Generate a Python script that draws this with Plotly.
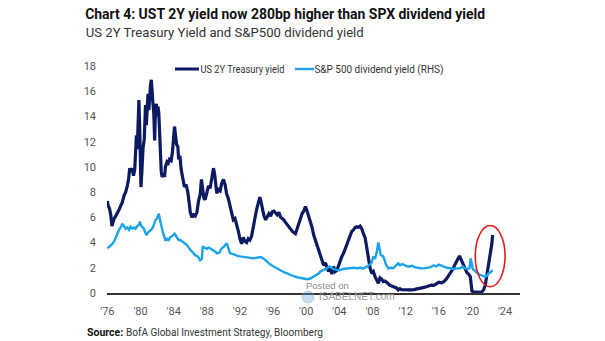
import plotly.graph_objects as go

# US 2Y Treasury yield (decimal year, %)
ust2y_t = [1976.0, 1976.1, 1976.25, 1976.4, 1976.55, 1976.65, 1976.8, 1977.0, 1977.2, 1977.4, 1977.6, 1977.8,
           1978.0, 1978.2, 1978.4, 1978.55, 1978.7, 1978.85, 1979.0, 1979.15, 1979.3, 1979.4, 1979.5, 1979.6,
           1979.7, 1979.8, 1979.9, 1980.05, 1980.15, 1980.3, 1980.45, 1980.6, 1980.7, 1980.8, 1980.9, 1981.0,
           1981.1, 1981.2, 1981.3, 1981.4, 1981.5, 1981.6, 1981.7, 1981.8, 1981.9, 1982.0, 1982.1, 1982.2,
           1982.3, 1982.4, 1982.5, 1982.6, 1982.75, 1982.9, 1983.0, 1983.2, 1983.35, 1983.5, 1983.7, 1983.85,
           1984.0, 1984.1, 1984.2, 1984.35, 1984.5, 1984.6, 1984.75, 1984.9, 1985.1, 1985.3, 1985.5, 1985.7,
           1985.9, 1986.0, 1986.2, 1986.4, 1986.6, 1986.8, 1987.0, 1987.2, 1987.35, 1987.5, 1987.65, 1987.8,
           1988.0, 1988.2, 1988.4, 1988.6, 1988.8, 1988.95, 1989.1, 1989.2, 1989.4, 1989.6, 1989.8, 1990.0,
           1990.2, 1990.4, 1990.55, 1990.7, 1990.85, 1991.0, 1991.2, 1991.4, 1991.6, 1991.8, 1992.0, 1992.2,
           1992.4, 1992.6, 1992.8, 1993.0, 1993.2, 1993.4, 1993.6, 1993.8, 1994.0, 1994.2, 1994.4, 1994.55,
           1994.7, 1994.9, 1995.1, 1995.3, 1995.5, 1995.7, 1995.9, 1996.1, 1996.3, 1996.5, 1996.7, 1996.9,
           1997.1, 1997.3, 1997.5, 1997.7, 1997.9, 1998.1, 1998.3, 1998.5, 1998.7, 1998.9, 1999.1, 1999.3,
           1999.5, 1999.7, 1999.9, 2000.1, 2000.3, 2000.5, 2000.7, 2000.9, 2001.1, 2001.3, 2001.5, 2001.7,
           2001.9, 2002.1, 2002.3, 2002.5, 2002.7, 2002.9, 2003.1, 2003.3, 2003.5, 2003.7, 2003.9, 2004.1,
           2004.3, 2004.5, 2004.7, 2004.9, 2005.1, 2005.3, 2005.5, 2005.7, 2005.9, 2006.1, 2006.3, 2006.5,
           2006.7, 2006.9, 2007.1, 2007.3, 2007.5, 2007.7, 2007.9, 2008.1, 2008.3, 2008.5, 2008.7, 2008.9,
           2009.1, 2009.3, 2009.5, 2009.7, 2009.9, 2010.1, 2010.3, 2010.5, 2010.7, 2010.9, 2011.1, 2011.3,
           2011.5, 2011.8, 2012.1, 2012.4, 2012.7, 2013.0, 2013.3, 2013.6, 2013.9, 2014.2, 2014.5, 2014.8,
           2015.1, 2015.4, 2015.7, 2016.0, 2016.3, 2016.6, 2016.9, 2017.1, 2017.3, 2017.5, 2017.7, 2017.9,
           2018.1, 2018.3, 2018.5, 2018.7, 2018.85, 2019.0, 2019.2, 2019.4, 2019.6, 2019.8, 2019.9, 2020.0,
           2020.2, 2020.5, 2020.8, 2021.0, 2021.2, 2021.4, 2021.6, 2021.75, 2021.85, 2022.0, 2022.1, 2022.2,
           2022.3, 2022.4, 2022.5]
ust2y_v = [7.3, 6.9, 6.7, 6.2, 5.3, 5.6, 5.9, 6.1, 6.3, 6.6, 6.9, 7.2,
           7.7, 8.0, 8.5, 9.0, 9.9, 9.6, 9.9, 9.3, 9.8, 11.0, 12.5, 11.4,
           13.0, 15.3, 13.0, 8.4, 9.5, 11.5, 12.2, 14.9, 13.3, 14.6, 15.8, 14.5,
           15.9, 16.5, 16.9, 15.2, 15.0, 14.2, 12.1, 14.5, 15.0, 14.0, 14.8, 14.3,
           12.8, 10.5, 9.6, 9.2, 9.5, 9.2, 10.0, 10.4, 10.3, 10.6, 10.5, 11.2,
           12.5, 13.2, 12.6, 11.8, 11.6, 10.6, 10.9, 9.8, 9.1, 8.4, 8.6, 8.0,
           7.0, 6.4, 6.0, 6.2, 6.1, 6.4, 7.3, 7.8, 9.0, 8.2, 7.5, 7.4,
           8.0, 8.5, 8.3, 9.0, 9.9, 9.4, 8.5, 7.9, 8.2, 8.1, 8.7, 9.0,
           8.6, 7.8, 7.6, 7.2, 6.8, 6.3, 5.8, 5.9, 5.5, 4.9, 4.3, 3.9,
           4.4, 4.1, 4.0, 4.3, 4.2, 4.5, 5.2, 6.05, 6.6, 7.1, 7.6, 7.2,
           6.6, 6.1, 5.8, 6.0, 6.3, 6.1, 6.45, 6.5, 6.3, 6.2, 6.4, 6.0,
           5.9, 5.8, 5.6, 5.4, 5.2, 5.0, 4.9, 4.8, 4.7, 5.1, 5.5, 6.0,
           6.3, 6.5, 6.85, 6.5, 6.1, 5.8, 5.2, 4.6, 4.2, 3.7, 3.4, 3.0,
           2.5, 2.2, 2.4, 2.0, 1.7, 1.96, 1.5, 2.1, 1.7, 1.8, 2.2, 2.6,
           2.9, 3.15, 3.5, 3.9, 4.2, 4.6, 4.9, 5.0, 5.2, 5.26, 5.2, 5.3,
           5.1, 4.7, 4.4, 3.6, 2.6, 2.0, 1.56, 1.7, 1.3, 1.0, 0.77, 1.2,
           1.1, 0.9, 0.95, 0.85, 0.7, 0.6, 0.55, 0.5, 0.45, 0.4, 0.24, 0.35,
           0.27, 0.25, 0.27, 0.24, 0.25, 0.27, 0.3, 0.35, 0.38, 0.45, 0.5, 0.55,
           0.63, 0.6, 0.7, 0.85, 0.8, 0.9, 1.1, 1.3, 1.43, 1.6, 1.9, 2.2,
           2.4, 2.7, 2.94, 2.6, 2.4, 2.2, 1.9, 1.6, 1.5, 1.3, 0.7, 0.15,
           0.1, 0.06, 0.05, 0.05, 0.1, 0.24, 0.6, 1.2, 1.56, 2.2, 2.9, 3.1,
           3.4, 3.9, 4.6]

# S&P 500 dividend yield (decimal year, %)
spx_dy_t = [1976.0, 1976.3, 1976.6, 1976.8, 1977.0, 1977.2, 1977.4, 1977.6, 1977.8, 1978.0, 1978.2, 1978.4,
            1978.6, 1978.8, 1979.0, 1979.2, 1979.4, 1979.6, 1979.8, 1979.9, 1980.1, 1980.4, 1980.55, 1980.7,
            1980.9, 1981.2, 1981.4, 1981.6, 1981.8, 1982.0, 1982.2, 1982.35, 1982.5, 1982.7, 1982.85, 1983.0,
            1983.2, 1983.4, 1983.6, 1983.8, 1984.1, 1984.3, 1984.6, 1984.8, 1985.0, 1985.3, 1985.6, 1985.9,
            1986.2, 1986.4, 1986.6, 1986.9, 1987.2, 1987.4, 1987.5, 1987.7, 1988.0, 1988.2, 1988.4, 1988.7,
            1989.0, 1989.2, 1989.5, 1989.8, 1990.1, 1990.4, 1990.6, 1990.8, 1991.1, 1991.4, 1991.7, 1992.0,
            1992.4, 1992.8, 1993.2, 1993.6, 1994.0, 1994.5, 1994.9, 1995.2, 1995.5, 1995.8, 1996.2, 1996.5,
            1996.9, 1997.3, 1997.7, 1998.0, 1998.4, 1998.9, 1999.3, 1999.7, 2000.1, 2000.5, 2000.9, 2001.2,
            2001.5, 2001.7, 2002.0, 2002.3, 2002.5, 2002.8, 2003.0, 2003.3, 2003.7, 2004.0, 2004.4, 2004.9,
            2005.3, 2005.7, 2006.1, 2006.5, 2006.9, 2007.3, 2007.6, 2007.9, 2008.1, 2008.3, 2008.5, 2008.7,
            2008.85, 2009.0, 2009.3, 2009.6, 2009.9, 2010.2, 2010.5, 2010.8, 2011.1, 2011.3, 2011.6, 2011.9,
            2012.2, 2012.5, 2012.8, 2013.1, 2013.4, 2013.8, 2014.2, 2014.6, 2015.0, 2015.4, 2015.7, 2016.0,
            2016.3, 2016.6, 2017.0, 2017.4, 2017.8, 2018.2, 2018.6, 2018.9, 2019.2, 2019.5, 2019.7, 2019.85,
            2019.95, 2020.1, 2020.3, 2020.6, 2021.0, 2021.3, 2021.6, 2021.8, 2022.0, 2022.2, 2022.35, 2022.5]
spx_dy_v = [3.55, 3.7, 3.9, 4.07, 4.4, 4.6, 5.0, 5.2, 5.5, 5.3, 5.1, 5.2,
            5.0, 5.26, 5.1, 5.2, 5.1, 5.3, 5.4, 5.65, 5.3, 5.1, 4.8, 4.6,
            4.8, 5.0, 5.1, 5.4, 5.8, 5.9, 6.3, 5.8, 5.26, 4.8, 4.5, 4.2,
            4.3, 4.2, 4.45, 4.5, 4.7, 4.5, 4.2, 4.2, 4.1, 3.9, 3.8, 3.5,
            3.3, 3.2, 3.0, 2.9, 2.6, 2.7, 3.7, 3.6, 3.5, 3.6, 3.55, 3.4,
            3.3, 3.15, 3.2, 3.55, 3.7, 3.95, 3.5, 3.15, 3.1, 3.0, 2.95, 2.9,
            2.85, 2.8, 2.75, 2.75, 2.8, 2.85, 2.7, 2.5, 2.35, 2.2, 2.05, 1.96,
            1.8, 1.65, 1.56, 1.45, 1.35, 1.25, 1.2, 1.15, 1.09, 1.15, 1.3, 1.4,
            1.55, 1.7, 1.8, 1.85, 1.96, 2.1, 2.0, 1.9, 1.83, 1.8, 1.9, 1.96,
            1.95, 2.0, 1.96, 2.0, 1.95, 2.1, 2.2, 2.4, 2.9, 2.7, 3.2, 4.0,
            3.4, 3.0, 2.9, 2.3, 1.96, 2.0, 1.96, 2.15, 2.35, 2.2, 2.3, 2.2,
            2.1, 2.1, 2.15, 2.05, 2.0, 1.96, 1.95, 2.0, 2.05, 2.2, 2.1, 2.25,
            2.15, 2.1, 2.0, 1.96, 1.9, 1.95, 1.96, 2.1, 1.95, 1.9, 1.96, 2.75,
            2.3, 1.9, 1.8, 1.6, 1.43, 1.35, 1.3, 1.35, 1.56, 1.6, 1.75, 1.83]

tick_years = [1976, 1980, 1984, 1988, 1992, 1996, 2000, 2004, 2008, 2012, 2016, 2020, 2024]
tick_text = ["'76", "'80", "'84", "'88", "'92", "'96", "'00", "'04", "'08", "'12", "'16", "'20", "'24"]
y_ticks = [0, 2, 4, 6, 8, 10, 12, 14, 16, 18]

TITLE = "Chart 4: UST 2Y yield now 280bp higher than SPX dividend yield"
SUBTITLE = "US 2Y Treasury Yield and S&P500 dividend yield"
LEG_UST = "US 2Y Treasury yield"
LEG_SPX = "S&P 500 dividend yield (RHS)"
SOURCE_TAG = "Source:"
SOURCE = "BofA Global Investment Strategy, Bloomberg"

NAVY = "#0c1a62"
SKY = "#1aa3e8"
FONT = "Roboto, Liberation Sans, Arial, sans-serif"

W, H = 605, 341
L, R, T, B = 107, 520, 66, 293  # plot area edges in pixels


def px(xp):
    return (xp - L) / (R - L)


def py(yp):
    return (B - yp) / (B - T)


fig = go.Figure()
fig.add_trace(go.Scatter(x=ust2y_t, y=ust2y_v, mode="lines", name=LEG_UST,
                         line=dict(color=NAVY, width=3.2), showlegend=False))
fig.add_trace(go.Scatter(x=spx_dy_t, y=spx_dy_v, mode="lines", name=LEG_SPX,
                         line=dict(color=SKY, width=2.4), showlegend=False))

shapes = [
    # highlight of the latest move
    dict(type="circle", xref="x", yref="y", x0=2020.4, x1=2024.0, y0=0.5, y1=5.35,
         line=dict(color="#e31b1b", width=1.6)),
    # legend keys
    dict(type="line", xref="paper", yref="paper", x0=px(175), x1=px(199), y0=py(69), y1=py(69),
         line=dict(color=NAVY, width=3)),
    dict(type="line", xref="paper", yref="paper", x0=px(295), x1=px(314), y0=py(69), y1=py(69),
         line=dict(color=SKY, width=2.4)),
    # watermark globe
    dict(type="circle", xref="paper", yref="paper", x0=px(302), x1=px(314), y0=py(303), y1=py(291),
         fillcolor="rgba(90,160,225,0.35)", line=dict(color="rgba(150,170,190,0.5)", width=1)),
]

# centred text items: (text, centre x px, centre y px, size, colour)
texts = [
    ("<b>" + TITLE + "</b>", 285, 14, 15.5, "#111"),
    (SUBTITLE, 224, 31.5, 13.5, "#333"),
    (LEG_UST, 242, 69, 10.5, "#333"),
    (LEG_SPX, 378.5, 69, 10.5, "#333"),
]
annotations = []
for txt, cx, cy, size, col in texts:
    annotations.append(dict(text=txt, x=px(cx), y=py(cy), xref="paper", yref="paper",
                            xanchor="center", yanchor="middle", showarrow=False,
                            font=dict(size=size, color=col, family=FONT)))
annotations += [
    dict(text="<b>" + SOURCE_TAG + "</b>", x=px(85), y=py(332), xref="paper", yref="paper",
         xanchor="left", yanchor="middle", showarrow=False,
         font=dict(size=10.5, color="#111", family=FONT)),
    dict(text=SOURCE, x=px(124), y=py(332), xref="paper", yref="paper",
         xanchor="left", yanchor="middle", showarrow=False,
         font=dict(size=10, color="#333", family=FONT)),
    dict(text="Posted on", x=px(327.5), y=py(285.5), xref="paper", yref="paper",
         xanchor="center", yanchor="middle", showarrow=False,
         font=dict(size=9.5, color="#8a8a8a", family="Arial")),
    dict(text="ISABELNET.com", x=px(357), y=py(296.5), xref="paper", yref="paper",
         xanchor="center", yanchor="middle", showarrow=False,
         font=dict(size=10, color="#9a9a9a", family="Arial")),
]

fig.update_layout(
    width=W, height=H,
    margin=dict(l=L, r=W - R, t=T, b=H - B, pad=0),
    paper_bgcolor="white", plot_bgcolor="white",
    font=dict(family=FONT, size=11, color="#444"),
    shapes=shapes, annotations=annotations,
    xaxis=dict(range=[1975.95, 2025.8], tickvals=tick_years, ticktext=tick_text,
               showgrid=False, zeroline=False, showline=True, linecolor="#333", linewidth=1.5,
               ticks="", ticklabelstandoff=7, tickfont=dict(size=11, color="#555")),
    yaxis=dict(range=[0, 18], tickvals=y_ticks, showgrid=False, zeroline=False, showline=False,
               ticks="", ticklabelstandoff=10, tickfont=dict(size=11, color="#555")),
)

# The report typeface is a condensed sans; fit the header and legend lines to their set widths.
fit_widths = {TITLE: 400, SUBTITLE: 278, LEG_UST: 84, LEG_SPX: 129}
post = """
var gd = document.getElementById('{plot_id}');
var fit = %s;
function squeeze() {
  gd.querySelectorAll('text.annotation-text').forEach(function (t) {
    var w = fit[t.textContent.trim()];
    if (w) {
      t.setAttribute('textLength', w);
      t.setAttribute('lengthAdjust', 'spacingAndGlyphs');
    }
  });
}
squeeze();
gd.on('plotly_afterplot', squeeze);
""" % str(fit_widths).replace("'", '"')

fig.write_html("out.html", post_script=post)
